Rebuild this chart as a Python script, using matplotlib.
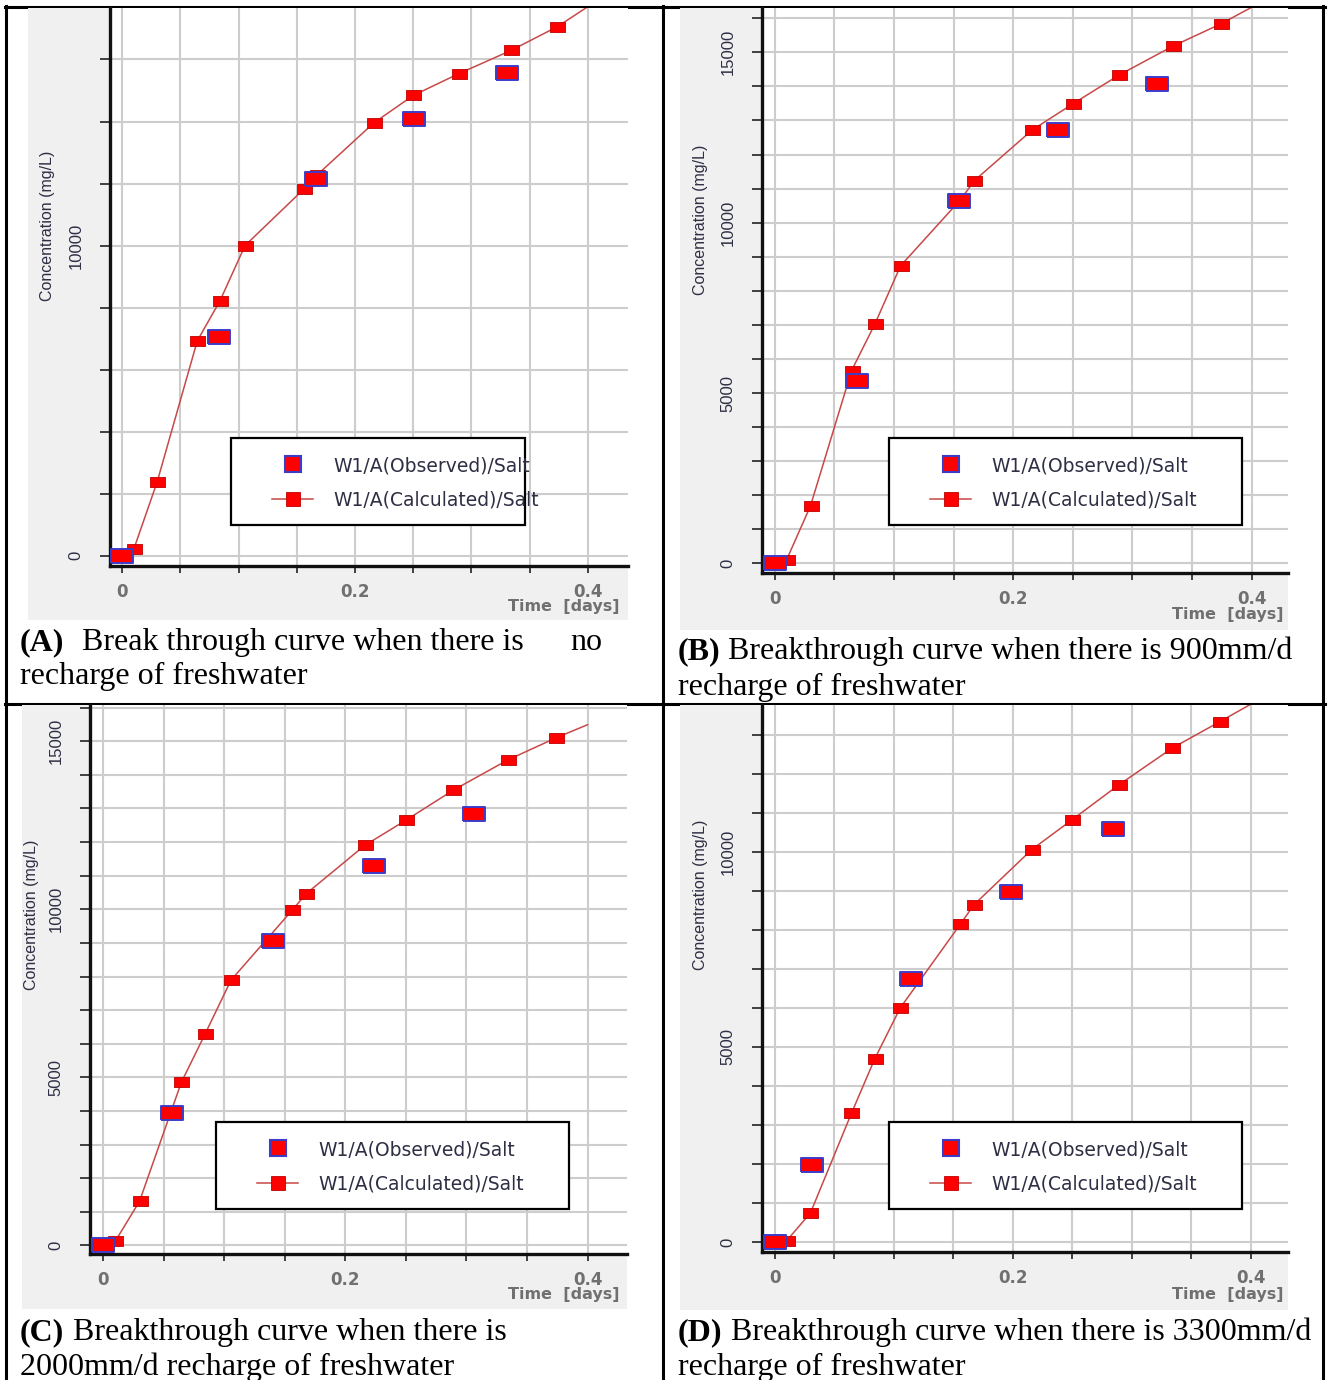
import matplotlib
matplotlib.use("Agg")
import numpy as np
import matplotlib.pyplot as plt
from matplotlib.lines import Line2D
from matplotlib.patches import Rectangle

W, H = 1330, 1380

# simulated breakthrough times (days); last point closes the curve, no marker
time_calc = [0, 0.0100, 0.0300, 0.0645, 0.0840, 0.1055, 0.1560, 0.1675,
             0.2160, 0.2500, 0.2890, 0.3340, 0.3740, 0.4000]

conc_calc_a = [0, 220, 2380, 6930, 8220, 10000, 11820, 12280, 13950, 14840,
               15540, 16290, 17060, 17700]
time_obs_a = [0, 0.083, 0.1667, 0.2505, 0.331]
conc_obs_a = [0, 7040, 12140, 14070, 15575]

conc_calc_b = [0, 110, 1690, 5660, 7025, 8730, 10680, 11235, 12720, 13485,
               14335, 15180, 15830, 16320]
time_obs_b = [0, 0.069, 0.1545, 0.238, 0.321]
conc_obs_b = [0, 5360, 10640, 12720, 14080]

conc_calc_c = [0, 129, 1315, 4850, 6280, 7890, 9970, 10460, 11900, 12650,
               13540, 14440, 15100, 15490]
time_obs_c = [0, 0.0568, 0.1399, 0.2237, 0.3064]
conc_obs_c = [0, 3946, 9066, 11285, 12845]

conc_calc_d = [0, 33, 744, 3300, 4690, 6000, 8144, 8644, 10056, 10822,
               11711, 12656, 13333, 13780]
time_obs_d = [0, 0.0314, 0.1148, 0.1986, 0.2841]
conc_obs_d = [0, 1978, 6744, 8967, 10578]

x_labels = {0.0: "0", 0.2: "0.2", 0.4: "0.4"}
obs_label = "W1/A(Observed)/Salt"
calc_label = "W1/A(Calculated)/Salt"

captions = [
    ("(A)", "Break through curve when there is", "no", "recharge of freshwater"),
    ("(B)", "Breakthrough curve when there is 900mm/d", "", "recharge of freshwater"),
    ("(C)", "Breakthrough curve when there is", "", "2000mm/d recharge of freshwater"),
    ("(D)", "Breakthrough curve when there is 3300mm/d", "", "recharge of freshwater"),
]


def fx(px):
    return px / W


def fy(py):
    return 1 - py / H


fig = plt.figure(figsize=(W / 100, H / 100), dpi=100)

# table rules behind the screenshots
for x in (6, 663, 1323):
    fig.add_artist(Line2D([fx(x), fx(x)], [fy(6), fy(H + 5)], color="black",
                          lw=2.2, zorder=-3))
for y in (7, 704):
    fig.add_artist(Line2D([fx(5), fx(1325)], [fy(y), fy(y)], color="black",
                          lw=2.2, zorder=-3))

obs_marker = [(-1.5, -1), (1.5, -1), (1.5, 1), (-1.5, 1), (-1.5, -1)]
calc_marker = [(-1.45, -1), (1.45, -1), (1.45, 1), (-1.45, 1), (-1.45, -1)]

panels = [
    dict(box=(110, 8, 628, 566), bg=(28, 8, 628, 620),
         xlim=(-0.0105, 0.4346), ylim=(-329, 17660), ystep=2000, ymax=16000,
         ylab=(0, 10000), calc=conc_calc_a, tobs=time_obs_a, cobs=conc_obs_a,
         leg=(231, 438, 525, 525), ylabel_at=(48, 226), time_at=(620, 606),
         cap_x=(20, 82, 570), cap_y=(650, 684)),
    dict(box=(762, 8, 1288, 573), bg=(680, 8, 1288, 630),
         xlim=(-0.0107, 0.4306), ylim=(-282, 16300), ystep=1000, ymax=16000,
         ylab=(0, 5000, 10000, 15000), calc=conc_calc_b, tobs=time_obs_b,
         cobs=conc_obs_b, leg=(889, 438, 1242, 525), ylabel_at=(700, 220),
         time_at=(1283, 615), cap_x=(678, 728, None), cap_y=(659, 695)),
    dict(box=(90, 705, 627, 1254), bg=(22, 705, 627, 1309),
         xlim=(-0.0109, 0.4326), ylim=(-253, 16077), ystep=1000, ymax=16000,
         ylab=(0, 5000, 10000, 15000), calc=conc_calc_c, tobs=time_obs_c,
         cobs=conc_obs_c, leg=(216, 1122, 569, 1209), ylabel_at=(32, 915),
         time_at=(620, 1295), cap_x=(20, 73, None), cap_y=(1340, 1375)),
    dict(box=(762, 705, 1288, 1252), bg=(680, 705, 1288, 1310),
         xlim=(-0.0107, 0.4314), ylim=(-256, 13762), ystep=1000, ymax=13000,
         ylab=(0, 5000, 10000), calc=conc_calc_d, tobs=time_obs_d,
         cobs=conc_obs_d, leg=(889, 1122, 1242, 1209), ylabel_at=(700, 895),
         time_at=(1283, 1295), cap_x=(678, 731, None), cap_y=(1340, 1375)),
]

text_dark = "#2e2e44"
narrow = ["Liberation Sans Narrow", "Liberation Sans", "DejaVu Sans"]

for p, cap in zip(panels, captions):
    # grey screenshot backdrop
    bx0, by0, bx1, by1 = p["bg"]
    fig.add_artist(Rectangle((fx(bx0), fy(by1)), (bx1 - bx0) / W, (by1 - by0) / H,
                             transform=fig.transFigure, fc="#f0f0f0", ec="none",
                             zorder=-1))

    x0, y0, x1, y1 = p["box"]
    ax = fig.add_axes([fx(x0), fy(y1), (x1 - x0) / W, (y1 - y0) / H])
    ax.set_facecolor("white")
    ax.set_xlim(*p["xlim"])
    ax.set_ylim(*p["ylim"])

    xt = np.round(np.arange(0, 0.4001, 0.05), 2)
    ax.set_xticks(xt, [x_labels.get(float(v), "") for v in xt])
    yt = np.arange(0, p["ymax"] + 1, p["ystep"])
    ax.set_yticks(yt, [str(int(v)) if v in p["ylab"] else "" for v in yt])

    ax.grid(True, color="#cdcdcd", lw=1.5)
    ax.set_axisbelow(True)
    for s in ("top", "right"):
        ax.spines[s].set_visible(False)
    for s in ("left", "bottom"):
        ax.spines[s].set_linewidth(2.4)
        ax.spines[s].set_color("#111111")

    ax.tick_params(axis="y", direction="out", length=7, width=1.2,
                   color="#222222", pad=12, labelrotation=90, labelsize=12,
                   labelcolor=text_dark)
    ax.tick_params(axis="x", direction="out", length=5, width=1.2,
                   color="#222222", pad=7, labelsize=12, labelcolor="#707070")
    for lbl in ax.get_yticklabels():
        lbl.set_fontfamily(narrow)
        lbl.set_va("center")
    for lbl in ax.get_xticklabels():
        lbl.set_fontweight("bold")

    ax.plot(time_calc, p["calc"], color="#c84848", lw=1.1, marker=calc_marker,
            ms=10.8, mfc="#ff0000", mec="#c00000", mew=0.6,
            markevery=list(range(len(time_calc) - 1)), zorder=3)
    ax.plot(p["tobs"], p["cobs"], ls="none", marker=obs_marker, ms=16,
            mfc="#ff0000", mec="#3c3cc8", mew=1.4, zorder=4)

    # legend box
    lx0, ly0, lx1, ly1 = p["leg"]
    ax.add_patch(Rectangle((fx(lx0), fy(ly1)), (lx1 - lx0) / W, (ly1 - ly0) / H,
                           transform=fig.transFigure, fc="white", ec="black",
                           lw=1.6, clip_on=False, zorder=5))
    handles = [
        Line2D([], [], ls="none", marker="s", ms=12, mfc="#ff0000",
               mec="#3c3cc8", mew=1.5),
        Line2D([], [], color="#c84848", lw=1.1, marker="s", ms=10.5,
               mfc="#ff0000", mec="#c00000", mew=0.6),
    ]
    leg = ax.legend(handles, [obs_label, calc_label], loc="upper left",
                    bbox_to_anchor=(fx(lx0 + 41), fy(ly0 + 18)),
                    bbox_transform=fig.transFigure, frameon=False,
                    fontsize=13.5, borderpad=0, borderaxespad=0,
                    handlelength=2.2, handletextpad=1.05, labelspacing=0.85)
    leg.set_zorder(6)
    for t in leg.get_texts():
        t.set_color(text_dark)

    # axis titles
    fig.text(fx(p["ylabel_at"][0]), fy(p["ylabel_at"][1]), "Concentration (mg/L)",
             rotation=90, ha="center", va="center", fontsize=11.5,
             family=narrow, color=text_dark)
    fig.text(fx(p["time_at"][0]), fy(p["time_at"][1]), "Time  [days]",
             ha="right", va="center", fontsize=11.5, fontweight="bold",
             color="#707070")

    # caption
    cx_tag, cx_body, cx_tail = p["cap_x"]
    cy1, cy2 = p["cap_y"]
    tag, body, tail, line2 = cap
    serif = dict(family="Liberation Serif", fontsize=23, color="black",
                 va="baseline", ha="left")
    fig.text(fx(cx_tag), fy(cy1), tag, fontweight="bold", **serif)
    fig.text(fx(cx_body), fy(cy1), body, **serif)
    if tail:
        fig.text(fx(cx_tail), fy(cy1), tail, **serif)
    fig.text(fx(cx_tag), fy(cy2), line2, **serif)

fig.savefig("out.png", dpi=100)
